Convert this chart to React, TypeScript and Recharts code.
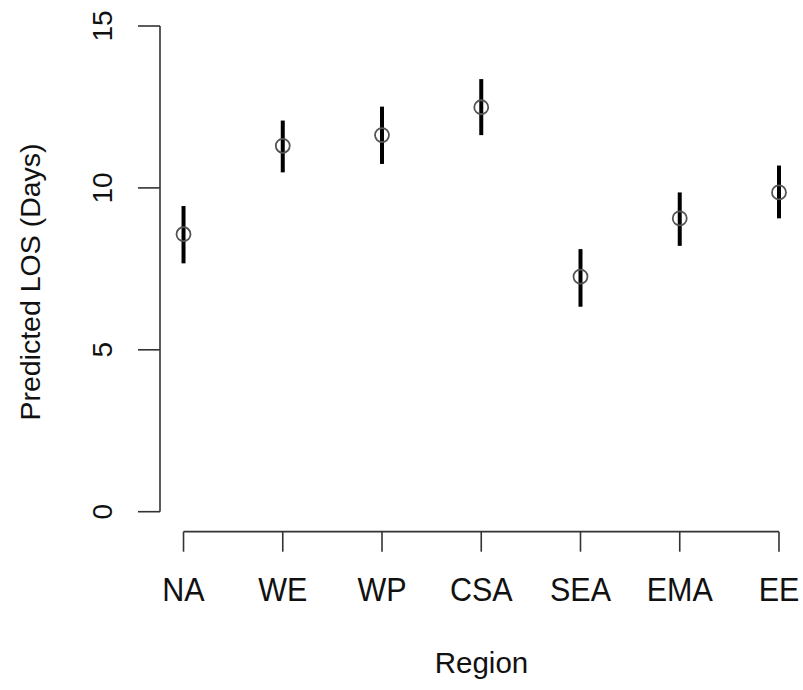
import React from 'react';
import { ComposedChart, Scatter, XAxis, YAxis, ErrorBar, ReferenceLine, Label } from 'recharts';

const regions = ['NA', 'WE', 'WP', 'CSA', 'SEA', 'EMA', 'EE'];
const means = [8.57, 11.3, 11.63, 12.49, 7.26, 9.06, 9.86];
const lowers = [7.67, 10.48, 10.74, 11.63, 6.33, 8.21, 9.06];
const uppers = [9.44, 12.08, 12.51, 13.36, 8.11, 9.86, 10.69];
const yTicks = [0, 5, 10, 15];
const xTicks = [1, 2, 3, 4, 5, 6, 7];

const data = regions.map((r, i) => ({
  idx: i + 1,
  region: r,
  mean: means[i],
  err: [means[i] - lowers[i], uppers[i] - means[i]],
}));

const FONT = '"Liberation Sans", Arial, Helvetica, sans-serif';
const AXIS = '#333';

const XTick = (props: any) => {
  const { x, y, payload } = props;
  return (
    <g>
      <line x1={x} x2={x} y1={y + 20} y2={y + 40} stroke={AXIS} strokeWidth={1.6} />
      <text
        x={0}
        y={0}
        textAnchor="middle"
        fontFamily={FONT}
        fontSize={30.5}
        fill="#111"
        transform={`translate(${x}, ${y + 89}) scale(1, 1.07)`}
      >
        {regions[payload.value - 1]}
      </text>
    </g>
  );
};

const YTick = (props: any) => {
  const { y, payload } = props;
  const bx = 112;
  return (
    <text
      x={bx}
      y={y}
      textAnchor="middle"
      fontFamily={FONT}
      fontSize={28}
      fill="#111"
      transform={`rotate(-90, ${bx}, ${y})`}
    >
      {payload.value}
    </text>
  );
};

const Circle = (props: any) => {
  const { cx, cy } = props;
  return <circle cx={cx} cy={cy} r={7} fill="none" stroke="#555" strokeWidth={1.8} />;
};

export default function App() {
  return (
    <div style={{ position: 'absolute', left: 0, top: 0, width: 803, height: 690, background: '#fff' }}>
      <ComposedChart width={803} height={690} data={data} margin={{ top: 26, right: 0, bottom: 0, left: 0 }}>
        <XAxis
          type="number"
          dataKey="idx"
          domain={[0.763, 7.242]}
          ticks={xTicks}
          interval={0}
          axisLine={false}
          tickLine={false}
          tickSize={0}
          tickMargin={0}
          height={178.3}
          tick={<XTick />}
          allowDataOverflow
        >
          <Label
            content={(p: any) => {
              const vb = p.viewBox;
              return (
                <text x={vb.x + vb.width / 2} y={vb.y + 161} textAnchor="middle" fontFamily={FONT} fontSize={29.5} fill="#111">
                  Region
                </text>
              );
            }}
          />
        </XAxis>
        <YAxis
          type="number"
          domain={[0, 15]}
          ticks={yTicks}
          interval={0}
          width={160}
          axisLine={{ stroke: AXIS, strokeWidth: 1.6 }}
          tickLine={{ stroke: AXIS, strokeWidth: 1.6 }}
          tickSize={22}
          tick={<YTick />}
          allowDataOverflow
        >
          <Label
            content={() => (
              <text
                x={40}
                y={282}
                textAnchor="middle"
                fontFamily={FONT}
                fontSize={28.5}
                fill="#111"
                transform="rotate(-90, 40, 282)"
              >
                Predicted LOS (Days)
              </text>
            )}
          />
        </YAxis>
        <ReferenceLine
          segment={[{ x: 1, y: -0.615 }, { x: 7, y: -0.615 }]}
          stroke={AXIS}
          strokeWidth={1.6}
          ifOverflow="visible"
        />
        <Scatter dataKey="mean" shape={<Circle />} isAnimationActive={false}>
          <ErrorBar dataKey="err" direction="y" width={0} stroke="#000" strokeWidth={4} isAnimationActive={false} />
        </Scatter>
      </ComposedChart>
    </div>
  );
}
